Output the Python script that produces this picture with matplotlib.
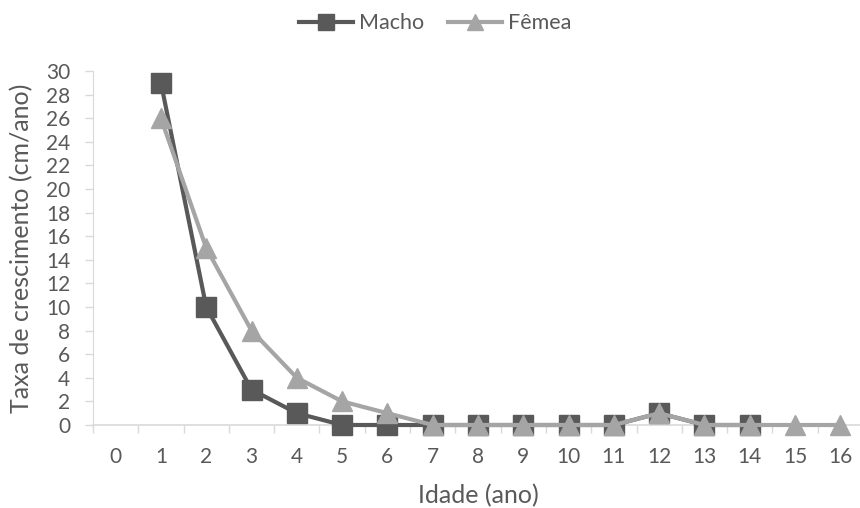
import numpy as np
import matplotlib.pyplot as plt

plt.rcParams['font.family'] = ['Lato', 'DejaVu Sans']

idade = list(range(0, 17))
idade_macho = list(range(1, 15))
macho = [29, 10, 3, 1, 0, 0, 0, 0, 0, 0, 0, 1, 0, 0]
idade_femea = list(range(1, 17))
femea = [26, 15, 8, 4, 2, 1, 0, 0, 0, 0, 0, 1, 0, 0, 0, 0]

cor_txt = "#595959"
cor_eixo = "#d9d9d9"

fig = plt.figure(figsize=(8.6, 5.08), dpi=100)
ax = fig.add_axes([93/860, 1-425/508, (863-93)/860, (425-71)/508])

ax.plot(idade_macho, macho, color="#595959", lw=3, marker="s", ms=14,
        label="Macho", clip_on=False, zorder=3)
ax.plot(idade_femea, femea, color="#a5a5a5", lw=3, marker="^", ms=14,
        label="Fêmea", clip_on=False, zorder=4)

ax.set_xlim(-0.5, 16.5)
ax.set_ylim(0, 30)
ax.set_yticks(np.arange(0, 31, 2))
ax.set_xticks(idade)
# ticks entre as categorias, como no Excel
ax.set_xticks(np.arange(-0.5, 16.6, 1), minor=True)
ax.tick_params(axis="x", which="major", length=0, pad=16, labelsize=15, labelcolor=cor_txt)
ax.tick_params(axis="x", which="minor", length=6, color=cor_eixo, width=1)
ax.tick_params(axis="y", length=6, color=cor_eixo, width=1, pad=10.5, labelsize=15, labelcolor=cor_txt)

for s in ["top", "right"]:
    ax.spines[s].set_visible(False)
ax.spines["left"].set_color(cor_eixo)
ax.spines["bottom"].set_color(cor_eixo)
ax.spines["bottom"].set_linewidth(1.2)

ax.set_xlabel("Idade (ano)", fontsize=18, color=cor_txt, labelpad=12)
ax.set_ylabel("Taxa de crescimento (cm/ano)", fontsize=18, color=cor_txt, labelpad=9)

fig.legend(loc="upper center", bbox_to_anchor=(0.506, 1.012), ncol=2, frameon=False,
           fontsize=15.5, labelcolor=cor_txt, handlelength=2.5, columnspacing=1.12,
           handletextpad=0.28, markerscale=0.82)

fig.savefig("out.png", dpi=100)
